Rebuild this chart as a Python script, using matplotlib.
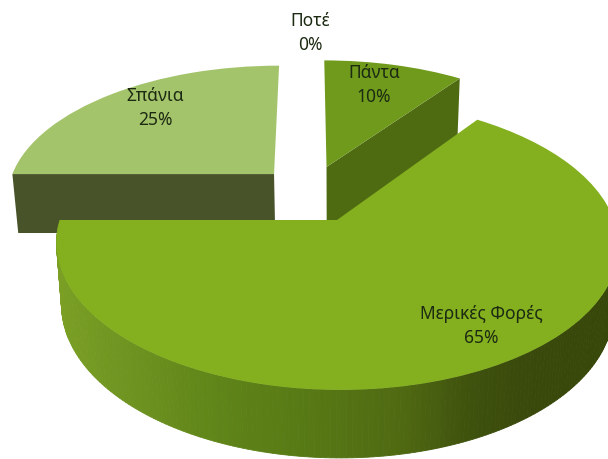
import numpy as np
import matplotlib
matplotlib.use("Agg")
import matplotlib.pyplot as plt
from matplotlib.patches import Polygon
from matplotlib.transforms import Transform

plt.rcParams['font.family'] = ['Noto Sans', 'DejaVu Sans']

categories = ['Πάντα', 'Μερικές Φορές', 'Σπάνια', 'Ποτέ']
values = [10, 65, 25, 0]
top_colors = ['#6f9a1c', '#84b01f', '#a4c46c', '#ffffff']
wall_colors = ['#4f6b12', None, '#48532a', None]
gradient_x = [60, 130, 220, 300, 400, 470, 520, 608]
gradient_c = ['#7a9f24', '#6e9320', '#5f8418', '#587a15', '#506a12', '#3f520d', '#3a4a0c', '#374709']

CX, CY, RX, RY, K, SKEW = 337.0, 220.0, 277.0, 141.0, 0.17, 3.5
CENTERS = [(-0.035, 0.4015), (0.0, 0.0), (-0.236, 0.345), (0.0, 1.3)]
LABEL_POS = [(374, 85), (481, 326), (155, 108), (310, 33)]


def to_top(uv):
    uv = np.asarray(uv, float).reshape(-1, 2)
    d = 1 + K * uv[:, 1]
    return np.column_stack([CX + RX * uv[:, 0] / d - SKEW * uv[:, 1],
                            CY - RY * uv[:, 1] / d])


def to_bottom(px):
    px = np.asarray(px, float).reshape(-1, 2)
    return np.column_stack([CX + 0.982 * (px[:, 0] - CX),
                            px[:, 1] + 60.9 + 0.042 * (px[:, 1] - CY)])


class Perspective(Transform):
    input_dims = output_dims = 2
    has_inverted = False
    is_separable = False

    def transform_non_affine(self, xy):
        return to_top(xy)


def shade(x):
    rgb = np.array([matplotlib.colors.to_rgb(c) for c in gradient_c])
    return [np.interp(x, gradient_x, rgb[:, i]) for i in range(3)]


fig = plt.figure(figsize=(6.08, 4.59), dpi=100, facecolor='white')
ax = fig.add_axes([0, 0, 1, 1])
wedges, _ = ax.pie(values, colors=top_colors, startangle=90, counterclock=False, radius=1)
ax.set_aspect('auto')
ax.set_xlim(0, 608)
ax.set_ylim(459, 0)
ax.axis('off')

persp = Perspective() + ax.transData
draw_order = [2, 0, 1]
for z, i in enumerate(draw_order):
    w = wedges[i]
    w.set_center(CENTERS[i])
    w.set_edgecolor('none')
    w.set_transform(persp)
    w.set_zorder(2 * z + 2)
    cu, cv = CENTERS[i]
    if i == 1:
        # curved outer wall, only the part that faces the viewer
        ang = np.radians(np.linspace(w.theta1, 5, 200))
        arc = to_top(np.column_stack([cu + np.cos(ang), cv + np.sin(ang)]))
        low = to_bottom(arc)
        for a in range(len(arc) - 1):
            quad = [arc[a], arc[a + 1], low[a + 1], low[a]]
            col = shade((arc[a, 0] + arc[a + 1, 0]) / 2)
            ax.add_patch(Polygon(quad, closed=True, facecolor=col, edgecolor=col,
                                 linewidth=0.6, zorder=2 * z + 1))
    elif wall_colors[i]:
        # flat radial wall facing the viewer
        th = np.radians(w.theta1 if i == 0 else w.theta2)
        edge = to_top([[cu, cv], [cu + np.cos(th), cv + np.sin(th)]])
        low = to_bottom(edge)
        if i == 0:
            low[:, 1] += 3  # runs under the large slice
        ax.add_patch(Polygon([edge[0], edge[1], low[1], low[0]], closed=True,
                             facecolor=wall_colors[i], edgecolor='none', zorder=2 * z + 1))

for name, v, (x, y) in zip(categories, values, LABEL_POS):
    ax.text(x, y, f"{name}\n{v}%", ha='center', va='center', fontsize=12.5,
            color='#1c2a12', linespacing=1.45, zorder=20)

fig.savefig('out.png', dpi=100)
